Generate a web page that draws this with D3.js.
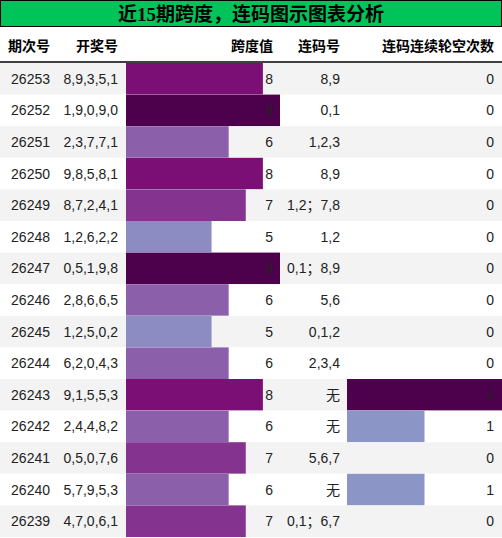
<!DOCTYPE html><html><head><meta charset="utf-8"><script src="https://d3js.org/d3.v7.min.js"></script>
<style>body{margin:0;background:#fff}</style></head><body><svg id="c" width="502" height="538"></svg>
<script>
const periods=["26253","26252","26251","26250","26249","26248","26247","26246","26245","26244","26243","26242","26241","26240","26239"];
const draws=["8,9,3,5,1","1,9,0,9,0","2,3,7,7,1","9,8,5,8,1","8,7,2,4,1","1,2,6,2,2","0,5,1,9,8","2,8,6,6,5","1,2,5,0,2","6,2,0,4,3","9,1,5,5,3","2,4,4,8,2","0,5,0,7,6","5,7,9,5,3","4,7,0,6,1"];
const spans=[8,9,6,8,7,5,9,6,5,6,8,6,7,6,7];
const lianma=["8,9","0,1","1,2,3","8,9","1,2；7,8","1,2","0,1；8,9","5,6","0,1,2","2,3,4","无","无","5,6,7","无","0,1；6,7"];
const gaps=[0,0,0,0,0,0,0,0,0,0,2,1,0,1,0];
const headers=["期次号","开奖号","跨度值","连码号","连码连续轮空次数"];
const svg=d3.select("#c");
const spanColor=d3.scaleOrdinal().domain([5,6,7,8,9]).range(["#8c8cc2","#8c5fab","#84348f","#7b0f76","#4d004b"]);
const gapColor=d3.scaleOrdinal().domain([1,2]).range(["#8c96c6","#4d004b"]);
svg.append("rect").attr("x",0.5).attr("y",0.5).attr("width",501).attr("height",26).attr("fill","#00c35a").attr("stroke","#000");
svg.append("text").attr("x",251).attr("y",21).attr("text-anchor","middle").attr("font-family","Liberation Serif, Noto Sans CJK SC").attr("font-weight","bold").attr("font-size",19).text("近15期跨度，连码图示图表分析");
const hx=[50,118,273,340,494];
headers.forEach((h,i)=>svg.append("text").attr("x",hx[i]).attr("y",51).attr("text-anchor","end").attr("font-family","Noto Sans CJK SC").attr("font-weight","bold").attr("font-size",14).text(h));
svg.append("line").attr("x1",0).attr("x2",502).attr("y1",62).attr("y2",62).attr("stroke","#000").attr("stroke-width",1.5);
const y=d3.scaleBand().domain(periods).range([63,537]);
const xs=d3.scaleLinear().domain([0,9]).range([126,280]);
const xg=d3.scaleLinear().domain([0,2]).range([347,502]);
const g=svg.append("g").selectAll("g").data(periods).join("g").attr("transform",d=>`translate(0,${y(d)})`);
const h=y.bandwidth();
g.append("rect").attr("width",502).attr("height",h).attr("fill",(d,i)=>i%2?"#fff":"#f3f3f3");
g.append("rect").attr("x",126).attr("width",(d,i)=>xs(spans[i])-126).attr("height",h).attr("fill",(d,i)=>spanColor(spans[i]));
g.append("rect").attr("x",347).attr("width",(d,i)=>gaps[i]?xg(gaps[i])-347:0).attr("height",h).attr("fill",(d,i)=>gapColor(gaps[i]||1));
const cols=[i=>periods[i],i=>draws[i],i=>spans[i],i=>lianma[i],i=>gaps[i]];
cols.forEach((f,c)=>g.append("text").attr("x",hx[c]).attr("y",h/2+5).attr("text-anchor","end").attr("font-family","Liberation Sans, Noto Sans CJK SC").attr("font-size",14).attr("fill","#222").text((d,i)=>f(i)));
</script></body></html>
